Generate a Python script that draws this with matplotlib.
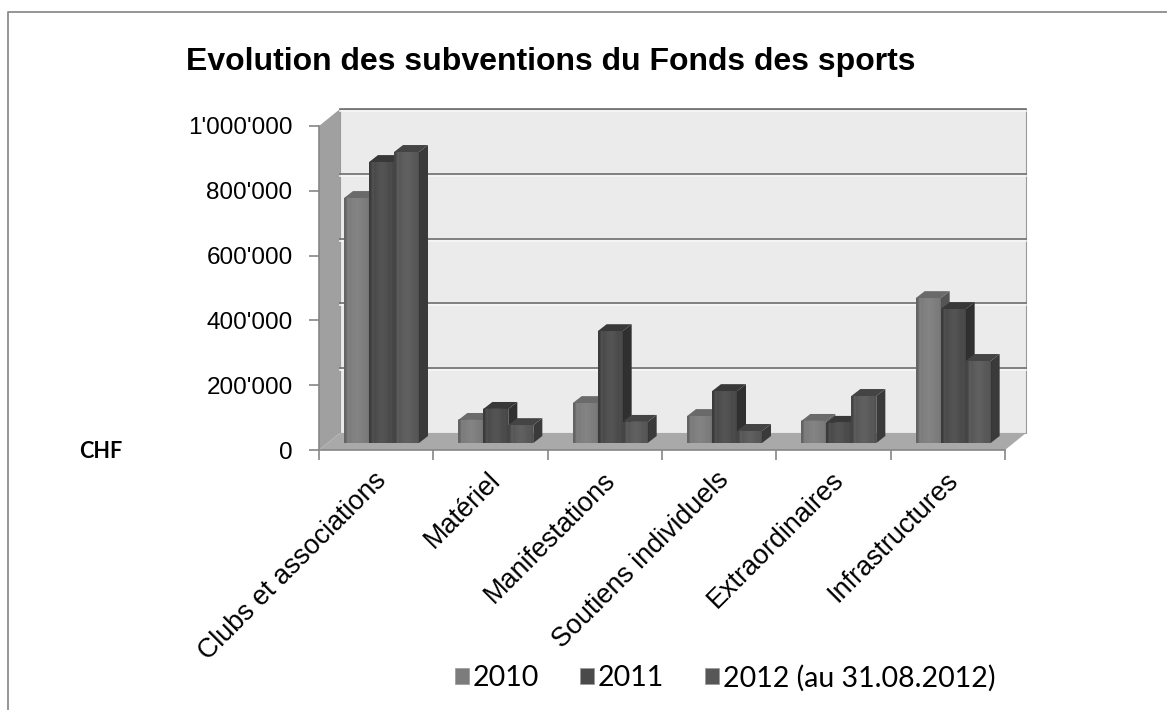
import numpy as np
import matplotlib
matplotlib.use("Agg")
import matplotlib.pyplot as plt
from matplotlib.patches import Polygon, Patch
from matplotlib.transforms import Affine2D, IdentityTransform

categories = ["Clubs et associations", "Matériel", "Manifestations",
              "Soutiens individuels", "Extraordinaires", "Infrastructures"]
series_names = ["2010", "2011", "2012 (au 31.08.2012)"]
v2010 = [756000, 71000, 123000, 83000, 68000, 447000]
v2011 = [867000, 105000, 345000, 160000, 62000, 413000]
v2012 = [898000, 55000, 65000, 37000, 145000, 253000]
y_ticks = [0, 200000, 400000, 600000, 800000, 1000000]
y_labels = ["0", "200'000", "400'000", "600'000", "800'000", "1'000'000"]

colors = ["#7c7c7c", "#4a4a4a", "#575757"]
tops = ["#6a6a6a", "#383838", "#444444"]
sides = ["#555555", "#303030", "#3a3a3a"]

W, H = 1167, 710
fig = plt.figure(figsize=(W / 100, H / 100), dpi=100)
ax = fig.add_axes([319 / W, 1 - 450 / H, 686 / W, 324 / H])
ax.set_xlim(0, 6)
ax.set_ylim(0, 1000000)
ax.patch.set_visible(False)

# decalage 3D en pixels
DX, DY = 21, 17
front_dx, front_dy = 9, 7
bar_dx, bar_dy = 9, 7
bar_off = 16 / 114.33
bar_w = 25 / 114.33

# degrade horizontal pose sur chaque barre
shade = np.zeros((1, 7, 4))
shade[0, :, :3] = [[0, 0, 0], [1, 1, 1], [1, 1, 1], [1, 1, 1], [1, 1, 1], [1, 1, 1], [0, 0, 0]]
shade[0, :, 3] = [0.2, 0.0, 0.04, 0.06, 0.04, 0.0, 0.06]


def px(x, v, dx=0, dy=0):
    p = ax.transData.transform((x, v))
    return (p[0] + dx, p[1] + dy)


def face(points, color, z, edge="none"):
    ax.add_patch(Polygon(points, closed=True, facecolor=color, edgecolor=edge, linewidth=0.8,
                         transform=IdentityTransform(), zorder=z, clip_on=False))


# murs et sol
face([px(0, 0, DX, DY), px(6, 0, DX, DY), px(6, 1000000, DX, DY), px(0, 1000000, DX, DY)],
     "#ebebeb", 1, "#9a9a9a")
face([px(0, 0), px(0, 0, DX, DY), px(0, 1000000, DX, DY), px(0, 1000000)], "#a0a0a0", 1.1)
face([px(0, 0), px(6, 0), px(6, 0, DX, DY), px(0, 0, DX, DY)], "#a9a9a9", 1.1)

back = ax.transData + Affine2D().translate(DX, DY)
for t in y_ticks[1:]:
    ax.plot([0, 6], [t, t], color="#6e6e6e", lw=1.2, transform=back, zorder=1.2, clip_on=False)
    ax.plot([0, 6], [t, t], color="#f6f6f6", lw=1.2, zorder=1.15, clip_on=False,
            transform=back + Affine2D().translate(0, -2))

# barres
front = ax.transData + Affine2D().translate(front_dx, front_dy)
z = 3
for i in range(len(categories)):
    for s, vals in enumerate([v2010, v2011, v2012]):
        x0 = i + bar_off + s * bar_w
        x1 = x0 + bar_w
        v = vals[i]
        d = front_dx + bar_dx, front_dy + bar_dy
        f = front_dx, front_dy
        face([px(x1, 0, *f), px(x1, 0, *d), px(x1, v, *d), px(x1, v, *f)], sides[s], z)
        face([px(x0, v, *f), px(x1, v, *f), px(x1, v, *d), px(x0, v, *d)], tops[s], z)
        ax.bar(x0, v, bar_w, align="edge", color=colors[s], linewidth=0,
               transform=front, zorder=z + 0.05, clip_on=False)
        ax.imshow(shade, extent=(x0, x1, 0, v), aspect="auto", transform=front,
                  interpolation="bilinear", zorder=z + 0.1, clip_on=False)
        z += 0.2

ax.set_xlim(0, 6)
ax.set_ylim(0, 1000000)

for name in ["top", "right"]:
    ax.spines[name].set_visible(False)
for name in ["left", "bottom"]:
    ax.spines[name].set_color("#868686")
    ax.spines[name].set_linewidth(1.2)
    ax.spines[name].set_zorder(2)

ax.set_yticks(y_ticks)
ax.set_yticklabels(y_labels, fontsize=17.5, family="Liberation Sans")
ax.set_xticks(range(7))
ax.set_xticklabels([])
ax.tick_params(axis="both", color="#868686", width=1.2, length=7)
ax.tick_params(axis="y", pad=12)

for i, name in enumerate(categories):
    ax.annotate(name, xy=(i + 0.5, 0), xytext=(-3, -17), textcoords="offset pixels", rotation=45,
                rotation_mode="anchor", ha="right", va="top", fontsize=19.4,
                family="Liberation Sans", annotation_clip=False)

fig.text(186 / W, 1 - 62 / H, "Evolution des subventions du Fonds des sports", fontsize=23,
         fontweight="bold", family="Liberation Sans", va="center", ha="left")
fig.text(79 / W, 1 - 451 / H, "CHF", fontsize=15.6, fontweight="bold", family="Lato",
         va="center", ha="left")

handles = [Patch(facecolor=c, edgecolor="#999999", linewidth=0.5) for c in colors]
fig.legend(handles, series_names, loc="center left", bbox_to_anchor=(455 / W, 1 - 678 / H), ncol=3,
           frameon=False, prop={"family": "Lato", "size": 20.5}, handlelength=0.5, handleheight=0.5,
           handletextpad=0.12, columnspacing=1.44, borderpad=0, borderaxespad=0)

# cadre du graphique
fig.add_artist(plt.Line2D([7.5 / W, 7.5 / W, 1], [0, 1 - 11.5 / H, 1 - 11.5 / H],
                          color="#8c8c8c", lw=1.3))

fig.savefig("out.png", dpi=100)
